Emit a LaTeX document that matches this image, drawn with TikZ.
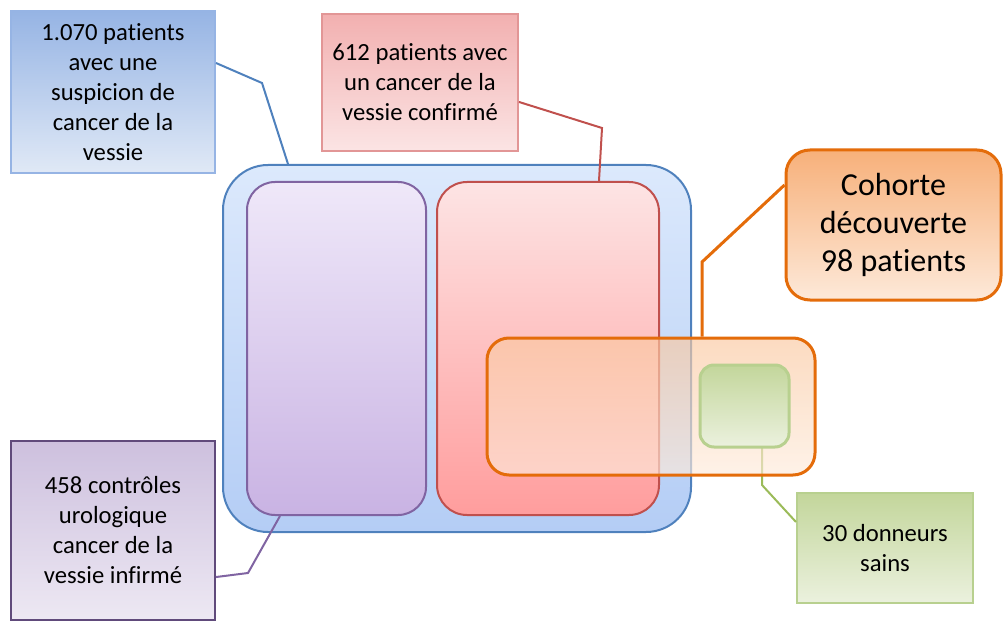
\documentclass[tikz,border=0pt]{standalone}
\usepackage{fontspec}
\setmainfont{Carlito}[Ligatures=NoCommon]
\usepackage{xcolor}
\definecolor{suspect}{RGB}{79,129,189}
\definecolor{suspect_top}{RGB}{150,180,228}
\definecolor{suspect_bot}{RGB}{224,233,246}
\definecolor{pool_top}{RGB}{220,233,252}
\definecolor{pool_bot}{RGB}{180,205,245}
\definecolor{control}{RGB}{128,100,162}
\definecolor{control_dark}{RGB}{96,74,123}
\definecolor{control_top}{RGB}{239,232,249}
\definecolor{control_bot}{RGB}{201,179,227}
\definecolor{control_lt}{RGB}{205,192,222}
\definecolor{control_lb}{RGB}{237,232,243}
\definecolor{cancer}{RGB}{192,80,77}
\definecolor{cancer_top}{RGB}{253,228,228}
\definecolor{cancer_bot}{RGB}{255,157,157}
\definecolor{cancer_lt}{RGB}{242,176,176}
\definecolor{cancer_lb}{RGB}{251,228,228}
\definecolor{cancer_edge}{RGB}{226,150,150}
\definecolor{cohort}{RGB}{228,108,10}
\definecolor{cohort_top}{RGB}{247,176,122}
\definecolor{cohort_bot}{RGB}{253,233,217}
\definecolor{cohort_wt}{RGB}{250,200,160}
\definecolor{cohort_wb}{RGB}{253,235,220}
\definecolor{healthy}{RGB}{155,187,89}
\definecolor{healthy_top}{RGB}{195,214,155}
\definecolor{healthy_bot}{RGB}{235,241,222}
\definecolor{healthy_edge}{RGB}{184,208,143}

\begin{document}
\begin{tikzpicture}[x=0.75pt,y=-0.75pt,
    label/.style={rectangle, inner sep=0pt, align=center, line width=1.5pt,
        font=\fontsize{18.5}{22.5}\selectfont},
    region/.style={rounded corners=#1, inner sep=0pt, line width=1.5pt},
    link/.style={line width=1.5pt}]
  \useasboundingbox (0,0) rectangle (1003,624);

  % groups
  \node[region=33.75pt, draw=suspect, top color=pool_top, bottom color=pool_bot,
        minimum width=351pt, minimum height=275.25pt] (pool) at (457,348.5) {};
  \node[region=21pt, draw=control, top color=control_top, bottom color=control_bot,
        minimum width=134.25pt, minimum height=249.75pt] (controls) at (336.5,348.5) {};
  \node[region=22.5pt, draw=cancer, top color=cancer_top, bottom color=cancer_bot,
        minimum width=166.5pt, minimum height=249.75pt] (cancers) at (548,348.5) {};

  % labels
  \node[label, draw=suspect_top, top color=suspect_top, bottom color=suspect_bot,
        minimum width=153pt, minimum height=121.5pt] (suspectlbl) at (113,92)
        {1.070 patients\\avec une\\suspicion de\\cancer de la\\vessie};
  \node[label, draw=cancer_edge, top color=cancer_lt, bottom color=cancer_lb,
        minimum width=147pt, minimum height=102.75pt] (cancerlbl) at (420,82.5)
        {612 patients avec\\un cancer de la\\vessie confirmé};
  \node[label, draw=control_dark, top color=control_lt, bottom color=control_lb,
        minimum width=153pt, minimum height=134.25pt] (controllbl) at (113,530.5)
        {458 contrôles\\urologique\\cancer de la\\vessie infirmé};
  \node[label, draw=healthy_edge, top color=healthy_top, bottom color=healthy_bot,
        minimum width=132pt, minimum height=82.5pt] (healthylbl) at (885,548)
        {30 donneurs\\sains};
  \node[label, rounded corners=18pt, line width=2.25pt, draw=cohort,
        top color=cohort_top, bottom color=cohort_bot,
        font=\fontsize{24}{28.5}\selectfont,
        minimum width=161.25pt, minimum height=112.5pt] (cohortlbl) at (893.5,225)
        {Cohorte\\découverte\\98 patients};

  % connectors
  \coordinate (healthyfoot) at (762,447);
  \draw[link, suspect] ([yshift=21.75pt]suspectlbl.east) -- (262,83) -- (pool.north -| 288,0);
  \draw[link, cancer] ([yshift=-14.6pt]cancerlbl.east) -- (602,128) -- (cancers.north -| 599,0);
  \draw[link, control] ([yshift=-34.9pt]controllbl.east) -- (248,573) -- (controls.south -| 280,0);
  \draw[link, healthy] (healthyfoot) -- (762,485) -- ([yshift=19.5pt]healthylbl.west);

  % discovery cohort
  \node[region=16.5pt, draw=cohort, line width=2.25pt, fill opacity=0.66,
        top color=cohort_wt, bottom color=cohort_wb, draw opacity=1,
        minimum width=246pt, minimum height=102.75pt] (cohort) at (651,406.5) {};
  \node[region=10.5pt, draw=healthy_edge, line width=2.25pt,
        top color=healthy_top, bottom color=healthy_bot,
        minimum width=66.75pt, minimum height=61.5pt] (healthy) at (744.5,406) {};
  \draw[link, cohort, line width=2.25pt] ([yshift=30pt]cohortlbl.west) -- (702,262) -- (cohort.north -| 702,0);
\end{tikzpicture}
\end{document}
